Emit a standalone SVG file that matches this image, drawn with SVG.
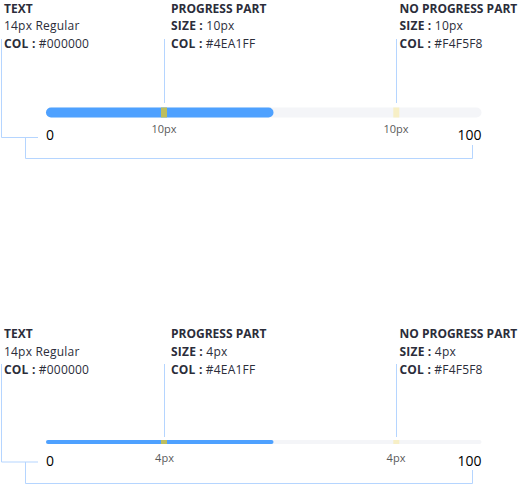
<svg xmlns="http://www.w3.org/2000/svg" width="518" height="485" viewBox="0 0 518 485">
<style>
  text { font-family: "Open Sans", "Liberation Sans", sans-serif; }
  .h { font-size: 12px; font-weight: 700; fill: #2b2d3a; }
  .r { font-size: 12px; font-weight: 400; fill: #2b2d3a; letter-spacing: 0.2px; }
  .b { font-weight: 700; }
  .sub { font-size: 11px; fill: #5a5a5a; text-anchor: middle; }
  .num { font-size: 14px; fill: #000000; }
  .ln { fill: none; stroke: #b5d5ff; stroke-width: 1; }
  .track { fill: #F4F5F8; }
  .prog { fill: #4EA1FF; }
  .m1 { fill: #bdbe5e; }
  .m2 { fill: #f7efc6; }
</style>
<rect width="518" height="485" fill="#ffffff"/>

<g id="connectors">
  <polyline class="ln" points="1.5,39 1.5,137.5 38,137.5"/>
  <polyline class="ln" points="25.5,137.5 25.5,158.5 472.5,158.5 472.5,145"/>
  <line class="ln" x1="164.5" y1="39" x2="164.5" y2="103"/>
  <line class="ln" x1="396.5" y1="39" x2="396.5" y2="103"/>

  <polyline class="ln" points="1.5,364 1.5,462 38,462"/>
  <polyline class="ln" points="25.5,462 25.5,483.5 472.5,483.5 472.5,470"/>
  <line class="ln" x1="164.5" y1="364" x2="164.5" y2="437"/>
  <line class="ln" x1="396.5" y1="364" x2="396.5" y2="437"/>
</g>

<g id="bar-10px">
  <rect class="track" x="46" y="107.5" width="435.5" height="10" rx="5"/>
  <rect class="prog" x="46" y="107.5" width="227.5" height="10" rx="5"/>
  <rect class="m1" x="161" y="107.5" width="6" height="10"/>
  <rect class="m2" x="393.3" y="107.5" width="6" height="10"/>
  <text class="sub" x="164" y="132.5">10px</text>
  <text class="sub" x="396" y="132.5">10px</text>
  <text class="num" x="46" y="140">0</text>
  <text class="num" x="481.5" y="140" text-anchor="end">100</text>
</g>

<g id="label-text-1">
  <text class="h" x="4" y="13">TEXT</text>
  <text class="r" x="4" y="30">14px Regular</text>
  <text class="r" x="4" y="48"><tspan class="b">COL :</tspan> #000000</text>
</g>
<g id="label-progress-1">
  <text class="h" x="171" y="13">PROGRESS PART</text>
  <text class="r" x="171" y="30"><tspan class="b">SIZE :</tspan> 10px</text>
  <text class="r" x="171" y="48"><tspan class="b">COL :</tspan> #4EA1FF</text>
</g>
<g id="label-noprogress-1">
  <text class="h" x="399.5" y="13">NO PROGRESS PART</text>
  <text class="r" x="399.5" y="30"><tspan class="b">SIZE :</tspan> 10px</text>
  <text class="r" x="399.5" y="48"><tspan class="b">COL :</tspan> #F4F5F8</text>
</g>

<g id="bar-4px">
  <rect class="track" x="46" y="440" width="435.5" height="4" rx="2"/>
  <rect class="prog" x="46" y="440" width="227.5" height="4" rx="2"/>
  <rect class="m1" x="161" y="440" width="6" height="4"/>
  <rect class="m2" x="393.3" y="440" width="6" height="4"/>
  <text class="sub" x="164.5" y="461.5">4px</text>
  <text class="sub" x="396" y="461.5">4px</text>
  <text class="num" x="46" y="465.5">0</text>
  <text class="num" x="481.5" y="465.5" text-anchor="end">100</text>
</g>

<g id="label-text-2">
  <text class="h" x="4" y="337.5">TEXT</text>
  <text class="r" x="4" y="356">14px Regular</text>
  <text class="r" x="4" y="374"><tspan class="b">COL :</tspan> #000000</text>
</g>
<g id="label-progress-2">
  <text class="h" x="171" y="337.5">PROGRESS PART</text>
  <text class="r" x="171" y="356"><tspan class="b">SIZE :</tspan> 4px</text>
  <text class="r" x="171" y="374"><tspan class="b">COL :</tspan> #4EA1FF</text>
</g>
<g id="label-noprogress-2">
  <text class="h" x="399.5" y="337.5">NO PROGRESS PART</text>
  <text class="r" x="399.5" y="356"><tspan class="b">SIZE :</tspan> 4px</text>
  <text class="r" x="399.5" y="374"><tspan class="b">COL :</tspan> #F4F5F8</text>
</g>
</svg>
